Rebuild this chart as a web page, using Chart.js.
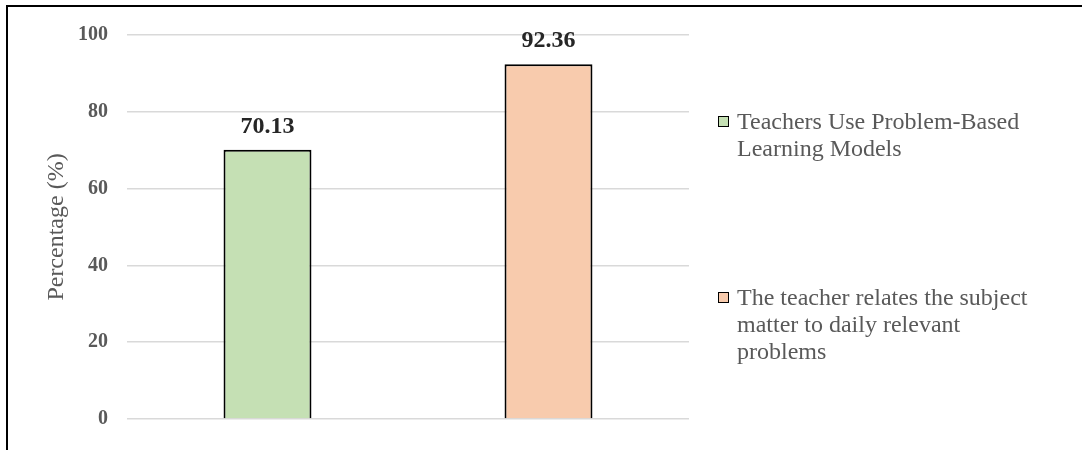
<!DOCTYPE html>
<html>
<head>
<meta charset="utf-8">
<script src="https://cdn.jsdelivr.net/npm/chart.js@4.4.1/dist/chart.umd.min.js"></script>
<style>
  html, body { margin: 0; padding: 0; background: #fff; }
  #wrap { position: relative; width: 1082px; height: 450px; overflow: hidden; }
  #frame { position: absolute; left: 6px; top: 5px; width: 1100px; height: 460px;
           border-top: 2px solid #000; border-left: 2px solid #000; pointer-events: none; }
  .leg { position: absolute; left: 718px; width: 360px; font: 24px "Liberation Serif", "Times New Roman", serif;
         color: #595959; line-height: 27px; white-space: nowrap; }
  .leg .box { position: absolute; left: 0; top: 8px; width: 9px; height: 9px; border: 1.5px solid #000; }
  .leg .txt { margin-left: 19px; }
</style>
</head>
<body>
<div id="wrap">
  <canvas id="myChart" width="1082" height="450"></canvas>
  <div id="frame"></div>
  <div id="legend"></div>
</div>
<script>
// categories (split in lines the way the legend shows them) and values
var categories = [['Teachers Use Problem-Based', 'Learning Models'],
                  ['The teacher relates the subject', 'matter to daily relevant', 'problems']];
var percentages = [70.13, 92.36];
var yTicks = [0, 20, 40, 60, 80, 100];
var barColors = ['#c5e0b4', '#f8cbad'];

var serif = '"Liberation Serif", "Times New Roman", serif';

// value labels above the bars
var valueLabels = {
    id: 'valueLabels',
    afterDatasetsDraw: function (chart) {
        var ctx = chart.ctx;
        ctx.save();
        ctx.font = 'bold 24px ' + serif;
        ctx.fillStyle = '#262626';
        ctx.textAlign = 'center';
        ctx.textBaseline = 'alphabetic';
        chart.getDatasetMeta(0).data.forEach(function (bar, i) {
            ctx.fillText(percentages[i].toFixed(2), bar.x, bar.y - 17);
        });
        ctx.restore();
    }
};

var ctx = document.getElementById('myChart').getContext('2d');
var myChart = new Chart(ctx, {
    type: 'bar',
    data: {
        labels: categories,
        datasets: [{
            label: 'Percentage',
            data: percentages,
            backgroundColor: barColors,
            borderColor: '#000',
            borderWidth: 2,
            barPercentage: 0.313,
            categoryPercentage: 1
        }]
    },
    options: {
        responsive: false,
        animation: false,
        layout: { padding: { top: 35, right: 393, bottom: 24, left: 0 } },
        plugins: {
            legend: { display: false },
            tooltip: { enabled: false }
        },
        scales: {
            x: { display: false },
            y: {
                min: yTicks[0],
                max: yTicks[yTicks.length - 1],
                afterBuildTicks: function (scale) {
                    scale.ticks = yTicks.map(function (v) { return { value: v }; });
                },
                afterFit: function (scale) { scale.width = 127; },
                ticks: {
                    color: '#595959',
                    font: { family: serif, size: 20, weight: 'bold' },
                    padding: 19
                },
                grid: { color: '#d9d9d9', lineWidth: 1.5, drawTicks: false },
                border: { display: false },
                title: {
                    display: true,
                    text: 'Percentage (%)',
                    color: '#595959',
                    font: { family: serif, size: 24 },
                    padding: { top: 42, bottom: 0 }
                }
            }
        }
    },
    plugins: [valueLabels]
});

// legend built from the chart's own labels and colours
var legendTops = [108, 284];
var legend = document.getElementById('legend');
myChart.data.labels.forEach(function (lines, i) {
    var item = document.createElement('div');
    item.className = 'leg';
    item.style.top = legendTops[i] + 'px';
    var box = document.createElement('div');
    box.className = 'box';
    box.style.background = myChart.data.datasets[0].backgroundColor[i];
    var txt = document.createElement('div');
    txt.className = 'txt';
    lines.forEach(function (line) {
        var row = document.createElement('div');
        row.textContent = line;
        txt.appendChild(row);
    });
    item.appendChild(box);
    item.appendChild(txt);
    legend.appendChild(item);
});
</script>
</body>
</html>
